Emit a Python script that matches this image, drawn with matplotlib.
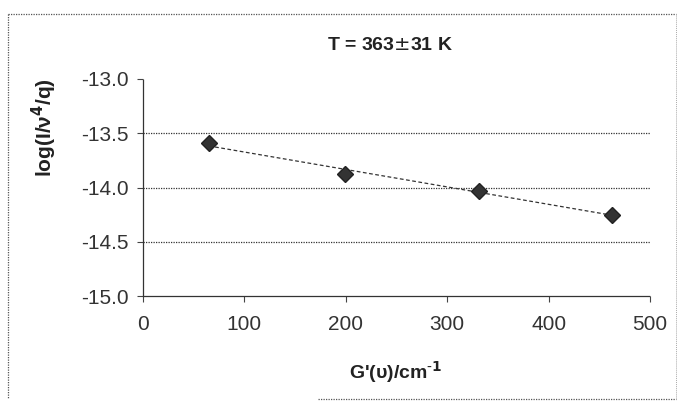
import matplotlib.pyplot as plt
import numpy as np
from matplotlib.lines import Line2D

plt.rcParams['font.family'] = ['Liberation Sans', 'DejaVu Sans']

# data
x_vals = [65, 199, 331, 463]
y_vals = [-13.59, -13.88, -14.03, -14.25]
x_ticks = [0, 100, 200, 300, 400, 500]
y_ticks = [-15.0, -14.5, -14.0, -13.5, -13.0]
title = 'T = 363$\\pm$31 K'

fig = plt.figure(figsize=(6.78, 4.01), dpi=100)
W, H = 678, 401
ax = fig.add_axes([143 / W, 1 - 296 / H, (650 - 143) / W, (296 - 79) / H])

# linear fit (trendline)
p = np.polyfit(x_vals, y_vals, 1)
xf = np.array([x_vals[0], x_vals[-1]])
ax.plot(xf, np.polyval(p, xf), ls=(0, (3, 2)), color='#333333', lw=0.9, zorder=2)
ax.plot(x_vals, y_vals, ls='none', marker='D', ms=8, color='#333333',
        markeredgecolor='#222222', zorder=3)

ax.set_xlim(0, 500)
ax.set_ylim(-15.0, -13.0)
ax.set_xticks(x_ticks)
ax.set_yticks(y_ticks)
ax.set_yticklabels(['%.1f' % v for v in y_ticks])
ax.tick_params(labelsize=15, length=4, width=0.8, color='#444444', labelcolor='#333333')
ax.tick_params(axis='x', pad=10)
ax.tick_params(axis='y', pad=6)

for yg in [-14.5, -14.0, -13.5]:
    ax.axhline(yg, color='#333333', lw=0.9, ls=(0, (1, 1)), zorder=1)

for s in ['top', 'right']:
    ax.spines[s].set_visible(False)
for s in ['left', 'bottom']:
    ax.spines[s].set_linestyle((0, (1, 1)))
    ax.spines[s].set_color('#333333')
    ax.spines[s].set_linewidth(0.9)

fig.text(390 / W, 1 - 45 / H, title, ha='center', va='center',
         fontsize=14, fontweight='bold', color='#222222')
fig.text(44 / W, 1 - 128 / H, 'log(I/\u03bd$^{\\mathbf{4}}$/q)', rotation=90,
         ha='center', va='center', fontsize=15, fontweight='bold', color='#222222')
fig.text(396 / W, 1 - 372 / H, "G'(\u03c5)/cm$^{\\mathbf{\\text{-}1}}$", ha='center', va='center',
         fontsize=14, fontweight='bold', color='#222222')

# outer chart border (dotted)
bc = '#555555'
bs = (0, (1, 1))
fig.add_artist(Line2D([8 / W, 676 / W], [1 - 14 / H, 1 - 14 / H], color=bc, lw=0.9, ls=bs))
fig.add_artist(Line2D([8 / W, 8 / W], [1 - 14 / H, 1 - 399 / H], color=bc, lw=0.9, ls=bs))
fig.add_artist(Line2D([676 / W, 676 / W], [1 - 14 / H, 1 - 399 / H], color='#aaaaaa', lw=0.7, ls=bs))
fig.add_artist(Line2D([318 / W, 676 / W], [1 - 399 / H, 1 - 399 / H], color=bc, lw=0.9, ls=bs))

fig.savefig('out.png', dpi=100)
